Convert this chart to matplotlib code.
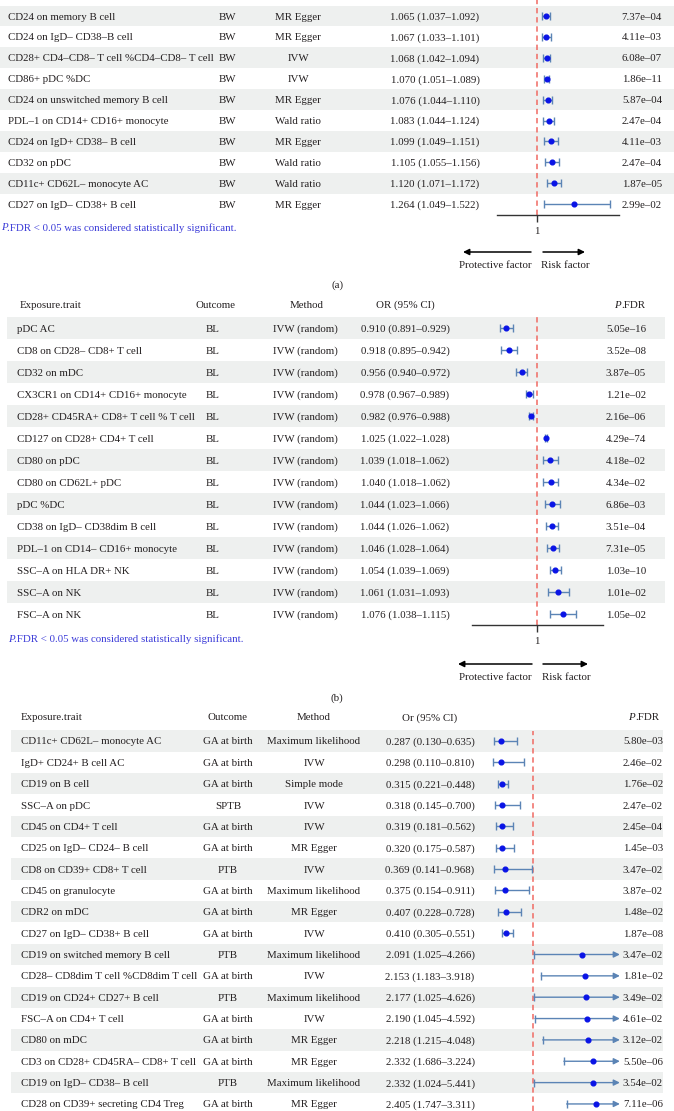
import matplotlib
matplotlib.use("Agg")
import matplotlib.pyplot as plt
import numpy as np

# ---------------- data ----------------
traits_a = ["CD24 on memory B cell", "CD24 on IgD– CD38–B cell",
            "CD28+ CD4–CD8– T cell %CD4–CD8– T cell", "CD86+ pDC %DC",
            "CD24 on unswitched memory B cell", "PDL–1 on CD14+ CD16+ monocyte",
            "CD24 on IgD+ CD38– B cell", "CD32 on pDC",
            "CD11c+ CD62L– monocyte AC", "CD27 on IgD– CD38+ B cell"]
outcome_a = ["BW"] * 10
method_a = ["MR Egger", "MR Egger", "IVW", "IVW", "MR Egger", "Wald ratio",
            "MR Egger", "Wald ratio", "Wald ratio", "MR Egger"]
or_a = [1.065, 1.067, 1.068, 1.070, 1.076, 1.083, 1.099, 1.105, 1.120, 1.264]
lo_a = [1.037, 1.033, 1.042, 1.051, 1.044, 1.044, 1.049, 1.055, 1.071, 1.049]
hi_a = [1.092, 1.101, 1.094, 1.089, 1.110, 1.124, 1.151, 1.156, 1.172, 1.522]
p_a = [7.37e-04, 4.11e-03, 6.08e-07, 1.86e-11, 5.87e-04, 2.47e-04, 4.11e-03,
       2.47e-04, 1.87e-05, 2.99e-02]

traits_b = ["pDC AC", "CD8 on CD28– CD8+ T cell", "CD32 on mDC",
            "CX3CR1 on CD14+ CD16+ monocyte", "CD28+ CD45RA+ CD8+ T cell % T cell",
            "CD127 on CD28+ CD4+ T cell", "CD80 on pDC", "CD80 on CD62L+ pDC",
            "pDC %DC", "CD38 on IgD– CD38dim B cell", "PDL–1 on CD14– CD16+ monocyte",
            "SSC–A on HLA DR+ NK", "SSC–A on NK", "FSC–A on NK"]
outcome_b = ["BL"] * 14
method_b = ["IVW (random)"] * 14
or_b = [0.910, 0.918, 0.956, 0.978, 0.982, 1.025, 1.039, 1.040, 1.044, 1.044,
        1.046, 1.054, 1.061, 1.076]
lo_b = [0.891, 0.895, 0.940, 0.967, 0.976, 1.022, 1.018, 1.018, 1.023, 1.026,
        1.028, 1.039, 1.031, 1.038]
hi_b = [0.929, 0.942, 0.972, 0.989, 0.988, 1.028, 1.062, 1.062, 1.066, 1.062,
        1.064, 1.069, 1.093, 1.115]
p_b = [5.05e-16, 3.52e-08, 3.87e-05, 1.21e-02, 2.16e-06, 4.29e-74, 4.18e-02,
       4.34e-02, 6.86e-03, 3.51e-04, 7.31e-05, 1.03e-10, 1.01e-02, 1.05e-02]

traits_c = ["CD11c+ CD62L– monocyte AC", "IgD+ CD24+ B cell AC", "CD19 on B cell",
            "SSC–A on pDC", "CD45 on CD4+ T cell", "CD25 on IgD– CD24– B cell",
            "CD8 on CD39+ CD8+ T cell", "CD45 on granulocyte", "CDR2 on mDC",
            "CD27 on IgD– CD38+ B cell", "CD19 on switched memory B cell",
            "CD28– CD8dim T cell %CD8dim T cell", "CD19 on CD24+ CD27+ B cell",
            "FSC–A on CD4+ T cell", "CD80 on mDC", "CD3 on CD28+ CD45RA– CD8+ T cell",
            "CD19 on IgD– CD38– B cell", "CD28 on CD39+ secreting CD4 Treg"]
outcome_c = ["GA at birth", "GA at birth", "GA at birth", "SPTB", "GA at birth",
             "GA at birth", "PTB", "GA at birth", "GA at birth", "GA at birth",
             "PTB", "GA at birth", "PTB", "GA at birth", "GA at birth",
             "GA at birth", "PTB", "GA at birth"]
method_c = ["Maximum likelihood", "IVW", "Simple mode", "IVW", "IVW", "MR Egger",
            "IVW", "Maximum likelihood", "MR Egger", "IVW", "Maximum likelihood",
            "IVW", "Maximum likelihood", "IVW", "MR Egger", "MR Egger",
            "Maximum likelihood", "MR Egger"]
or_c = [0.287, 0.298, 0.315, 0.318, 0.319, 0.320, 0.369, 0.375, 0.407, 0.410,
        2.091, 2.153, 2.177, 2.190, 2.218, 2.332, 2.332, 2.405]
lo_c = [0.130, 0.110, 0.221, 0.145, 0.181, 0.175, 0.141, 0.154, 0.228, 0.305,
        1.025, 1.183, 1.025, 1.045, 1.215, 1.686, 1.024, 1.747]
hi_c = [0.635, 0.810, 0.448, 0.700, 0.562, 0.587, 0.968, 0.911, 0.728, 0.551,
        4.266, 3.918, 4.626, 4.592, 4.048, 3.224, 5.441, 3.311]
p_c = [5.80e-03, 2.46e-02, 1.76e-02, 2.47e-02, 2.45e-04, 1.45e-03, 3.47e-02,
       3.87e-02, 1.48e-02, 1.87e-08, 3.47e-02, 1.81e-02, 3.49e-02, 4.61e-02,
       3.12e-02, 5.50e-06, 3.54e-02, 7.11e-06]

headers_b = ["Exposure.trait", "Outcome", "Method", "OR (95% CI)", "P.FDR"]
headers_c = ["Exposure.trait", "Outcome", "Method", "Or (95% CI)", "P.FDR"]
note_text = "FDR < 0.05 was considered statistically significant."

# ---------------- style ----------------
W, H, DPI = 674, 1111, 100
FS = 7.8
TXT = "#231f20"
BAND = "#eef0ef"
RED = "#f06a63"
CI_COL = "#5b84b5"
PT_COL = "#0a14e6"
NOTE_COL = "#3b3bd8"

plt.rcParams['font.family'] = ['Liberation Serif', 'DejaVu Serif']
plt.rcParams['font.size'] = FS
fig = plt.figure(figsize=(W / DPI, H / DPI), dpi=DPI)
fig.patch.set_facecolor("white")


def add_axes_px(x0, y0, x1, y1):
    return fig.add_axes([x0 / W, 1 - y1 / H, (x1 - x0) / W, (y1 - y0) / H])


def fmt_or(o, l, h):
    return f"{o:.3f} ({l:.3f}–{h:.3f})"


def fmt_p(p):
    return f"{p:.2e}".replace("-", "–")


def panel(traits, outcomes, methods, ors, los, his, ps, cfg):
    y0, step = cfg["y0"], cfg["step"]
    top, bot = cfg["top"], cfg["bot"]
    row = lambda py: (py - y0) / step
    tab = add_axes_px(0, top, W, bot)
    tab.set_xlim(0, W)
    tab.set_ylim(row(bot), row(top))
    tab.axis("off")
    tab.set_zorder(1)
    n = len(traits)
    bx0, bx1 = cfg["band"]
    for i in range(n):
        if i % 2 == 0:
            tab.fill_between([bx0, bx1], i - 0.5, i + 0.5, color=BAND, lw=0, zorder=0)
    xs = cfg["cols"]
    kw = dict(va="center_baseline", fontsize=FS, color=TXT)
    for i in range(n):
        tab.text(xs[0], i, traits[i], ha="left", **kw)
        tab.text(xs[1], i, outcomes[i], ha="center", **kw)
        tab.text(xs[2], i, methods[i], ha="center", **kw)
        tab.text(xs[3], i, fmt_or(ors[i], los[i], his[i]), ha="center", **kw)
        tab.text(xs[4], i, fmt_p(ps[i]), ha="right", **kw)
    if cfg.get("headers"):
        hy = row(cfg["header_y"])
        hx = cfg["hcols"]
        hd = cfg["headers"]
        tab.text(hx[0], hy, hd[0], ha="left", **kw)
        tab.text(hx[1], hy, hd[1], ha="center", **kw)
        tab.text(hx[2], hy, hd[2], ha="center", **kw)
        tab.text(hx[3], hy, hd[3], ha="center", **kw)
        t = tab.text(hx[4], hy, hd[4][1:], ha="right", **kw)
        fig.canvas.draw()
        bb = t.get_window_extent()
        xl = tab.transData.inverted().transform((bb.x0, 0))[0]
        tab.text(xl, hy, hd[4][0], ha="right", fontstyle="italic", **kw)
    if cfg.get("note_y") is not None:
        ny = row(cfg["note_y"])
        nkw = dict(va="center_baseline", fontsize=FS, color=NOTE_COL)
        tp = tab.text(cfg["note_x"], ny, "P", ha="left", fontstyle="italic", **nkw)
        fig.canvas.draw()
        bb = tp.get_window_extent()
        xr = tab.transData.inverted().transform((bb.x1, 0))[0]
        tab.text(xr - 0.5, ny, "." + note_text, ha="left", **nkw)
    if cfg.get("arrow_y") is not None:
        ay = row(cfg["arrow_y"])
        la, ra = cfg["arrows"]
        ap = dict(arrowstyle="-|>", color="black", lw=1.1, mutation_scale=9,
                  shrinkA=0, shrinkB=0)
        tab.annotate("", xy=(la[1], ay), xytext=(la[0], ay), arrowprops=ap)
        tab.annotate("", xy=(ra[1], ay), xytext=(ra[0], ay), arrowprops=ap)
        ly = row(cfg["arrow_lab_y"])
        tab.text(cfg["lab_x"][0], ly, "Protective factor", ha="center", **kw)
        tab.text(cfg["lab_x"][1], ly, "Risk factor", ha="center", **kw)
    if cfg.get("label"):
        tab.text(cfg["label_x"], row(cfg["label_y"]), cfg["label"], ha="center", **kw)

    # ---- forest axes ----
    fx0, fx1 = cfg["fx"]
    ftop, fbot = cfg["fy"]
    xc, sc = cfg["xc"], cfg["scale"]
    fa = add_axes_px(fx0, ftop, fx1, fbot)
    fa.set_zorder(2)
    fa.patch.set_alpha(0)
    fa.set_xlim((fx0 - xc) / sc + 1, (fx1 - xc) / sc + 1)
    fa.set_ylim(row(fbot), row(ftop))
    for s in ["top", "left", "right"]:
        fa.spines[s].set_visible(False)
    fa.set_yticks([])
    fa.axvline(1, color=RED, lw=1.1, ls=(0, (3.5, 2.5)), zorder=1)
    clip = cfg.get("clip")
    o = np.array(ors); l = np.array(los); h = np.array(his)
    rows = np.arange(n)
    inside = np.ones(n, bool) if clip is None else h <= clip
    fa.errorbar(o[inside], rows[inside],
                xerr=[o[inside] - l[inside], h[inside] - o[inside]],
                fmt="none", ecolor=CI_COL, elinewidth=1.0, capsize=2.6,
                capthick=1.0, zorder=2)
    for i in rows[~inside]:
        fa.annotate("", xy=(clip, i), xytext=(l[i], i),
                    arrowprops=dict(arrowstyle="-|>", color=CI_COL, lw=1.0,
                                    mutation_scale=9, shrinkA=0, shrinkB=0), zorder=2)
        fa.plot([l[i]], [i], marker="|", ms=5.5, mew=1.0, color=CI_COL, zorder=2)
    fa.plot(o, rows, "o", color=PT_COL, ms=3.4, zorder=3)
    if cfg.get("axis"):
        fa.spines["bottom"].set_color("#333333")
        fa.spines["bottom"].set_linewidth(1.0)
        fa.set_xticks([1])
        fa.set_xticklabels(["1"])
        fa.tick_params(axis="x", direction="out", length=5, width=1.0,
                       color="#333333", pad=4, labelsize=FS, labelcolor=TXT)
    else:
        fa.spines["bottom"].set_visible(False)
        fa.set_xticks([])


cfg_a = dict(y0=16, step=20.9, top=0, bot=296, band=(0, 674),
             cols=[8, 227, 298, 435, 662],
             note_y=227, note_x=1,
             arrow_y=252, arrows=((531, 463), (543, 585)),
             arrow_lab_y=264, lab_x=(495, 565),
             label="(a)", label_x=337, label_y=284,
             fx=(497, 619), fy=(0, 214.5), xc=537, scale=140, axis=True)
panel(traits_a, outcome_a, method_a, or_a, lo_a, hi_a, p_a, cfg_a)

cfg_b = dict(y0=328, step=22, top=296, bot=706, band=(7, 665),
             cols=[17, 213, 305, 405, 646],
             headers=headers_b, header_y=304, hcols=[20, 215, 307, 405, 645],
             note_y=638, note_x=8,
             arrow_y=664, arrows=((532, 458), (543, 588)),
             arrow_lab_y=677, lab_x=(495, 566),
             label="(b)", label_x=337, label_y=697,
             fx=(472, 603), fy=(317, 625), xc=537, scale=342, axis=True)
panel(traits_b, outcome_b, method_b, or_b, lo_b, hi_b, p_b, cfg_b)

cfg_c = dict(y0=741, step=21.35, top=706, bot=1111, band=(11, 663),
             cols=[21, 228, 314, 430, 663],
             headers=headers_c, header_y=717, hcols=[21, 228, 314, 430, 659],
             fx=(480, 622), fy=(731, 1111), xc=533, scale=45, axis=False,
             clip=2.93)
panel(traits_c, outcome_c, method_c, or_c, lo_c, hi_c, p_c, cfg_c)

fig.savefig("out.png", dpi=DPI, facecolor="white")
